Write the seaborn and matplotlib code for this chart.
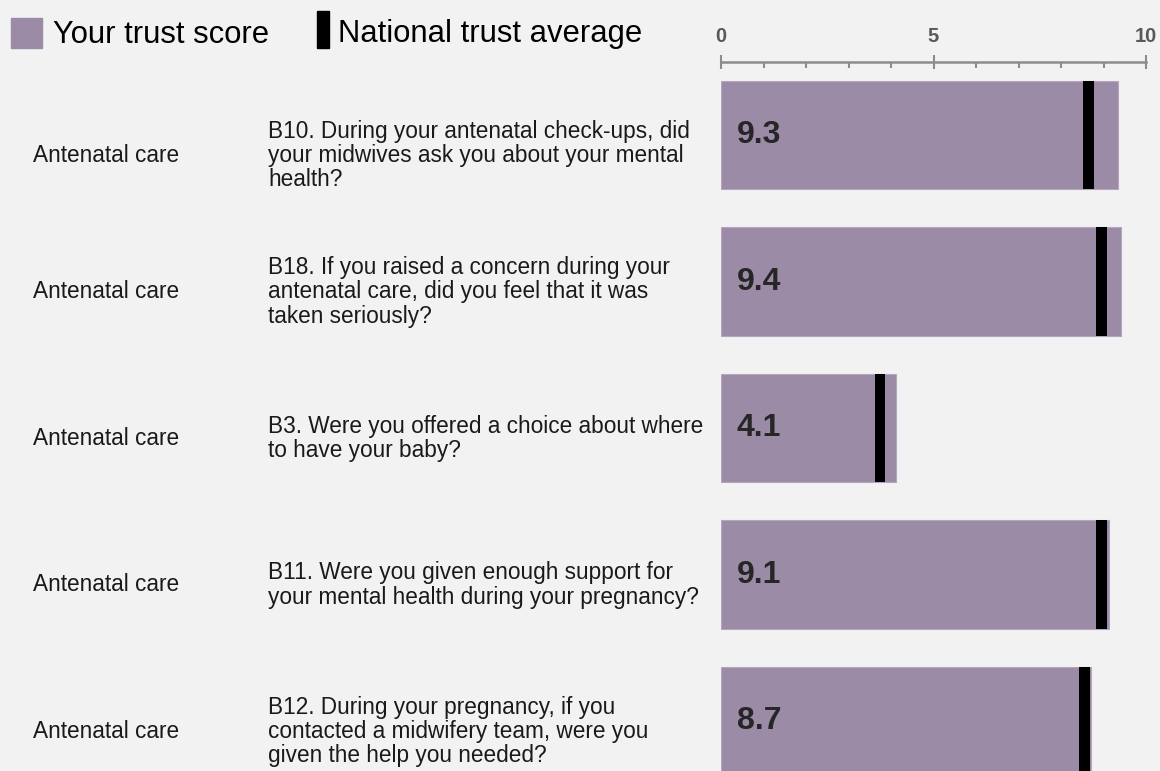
import numpy as np
import pandas as pd
import matplotlib
matplotlib.use("Agg")
import matplotlib.pyplot as plt
import matplotlib.transforms as mtransforms
from matplotlib.patches import Rectangle
import seaborn as sns

# -----------------------------
# DATA
# -----------------------------
sections = ["Antenatal care", "Antenatal care", "Antenatal care",
            "Antenatal care", "Antenatal care"]
questions = [
    "B10. During your antenatal check-ups, did\nyour midwives ask you about your mental\nhealth?",
    "B18. If you raised a concern during your\nantenatal care, did you feel that it was\ntaken seriously?",
    "B3. Were you offered a choice about where\nto have your baby?",
    "B11. Were you given enough support for\nyour mental health during your pregnancy?",
    "B12. During your pregnancy, if you\ncontacted a midwifery team, were you\ngiven the help you needed?",
]
codes = ["B10", "B18", "B3", "B11", "B12"]
trust_score = [9.3, 9.4, 4.1, 9.1, 8.7]
trust_score_exact = [9.33, 9.42, 4.12, 9.12, 8.71]
national_avg = [8.65, 8.95, 3.74, 8.95, 8.55]

df = pd.DataFrame({"code": codes, "score": trust_score_exact,
                   "label": trust_score, "national": national_avg})

# -----------------------------
# STYLE
# -----------------------------
sns.set_theme(style="white")
plt.rcParams["font.family"] = ["Liberation Sans", "DejaVu Sans"]

bg = "#F2F2F2"
purple = "#9B8BA6"
axis_grey = "#8C8C8C"

fig = plt.figure(figsize=(11.6, 7.71), dpi=100, facecolor=bg)
ax = fig.add_axes([721 / 1160, 0, 425 / 1160, 1 - 61.7 / 771])
ax.set_facecolor(bg)

sns.barplot(data=df, x="score", y="code", orient="h", color=purple,
            saturation=1, width=0.74, ax=ax, edgecolor="#B3A6BD", linewidth=0.8)

# national average markers
ax.barh(np.arange(len(df)), 0.25, left=df["national"] - 0.125, height=0.74,
        color="black", linewidth=0, edgecolor="none", zorder=3)

# value labels
for i, v in enumerate(df["label"]):
    ax.text(0.37, i, f"{v:.1f}", va="center", ha="left", fontsize=23,
            fontweight="bold", color="#262626", zorder=4)

ax.set_xlim(0, 10)
ax.set_ylim(4.339, -0.5)
ax.set_xlabel("")
ax.set_ylabel("")
ax.set_yticks([])

# top axis
ax.xaxis.tick_top()
ax.set_xticks([0, 5, 10])
ax.set_xticks(np.arange(0, 11, 1), minor=True)
ax.set_xticklabels(["0", "5", "10"], fontsize=14.5, fontweight="bold", color="#595959")
ax.tick_params(axis="x", which="major", direction="inout", length=10, width=1.5,
               color=axis_grey, pad=6, top=True, bottom=False)
ax.tick_params(axis="x", which="minor", direction="in", length=4, width=1.5,
               color=axis_grey, top=True, bottom=False)
for s in ["left", "right", "bottom"]:
    ax.spines[s].set_visible(False)
ax.spines["top"].set_color(axis_grey)
ax.spines["top"].set_linewidth(1.8)

# row texts
trans = mtransforms.blended_transform_factory(fig.transFigure, ax.transData)
offsets = [0.14, 0.07, 0.07, 0.07, 0.07]
for i in range(len(df)):
    fig.text(33 / 1160, i + offsets[i], sections[i], transform=trans,
             va="center", ha="left", fontsize=16.3, color="#1A1A1A")
    fig.text(268 / 1160, i + offsets[i], questions[i], transform=trans,
             va="center", ha="left", fontsize=16.3, color="#1A1A1A",
             linespacing=1.075)

# legend
fig.patches.append(Rectangle((11 / 1160, 1 - 48.3 / 771), 31 / 1160, 30 / 771,
                             transform=fig.transFigure, color=purple))
fig.text(53 / 1160, 1 - 43.3 / 771, "Your trust score", fontsize=22.3,
         va="baseline", ha="left", color="black")
fig.patches.append(Rectangle((316.7 / 1160, 1 - 48.3 / 771), 12.3 / 1160, 37.3 / 771,
                             transform=fig.transFigure, color="black"))
fig.text(338.3 / 1160, 1 - 41.7 / 771, "National trust average", fontsize=22.3,
         va="baseline", ha="left", color="black")

fig.savefig("out.png", dpi=100, facecolor=bg)
